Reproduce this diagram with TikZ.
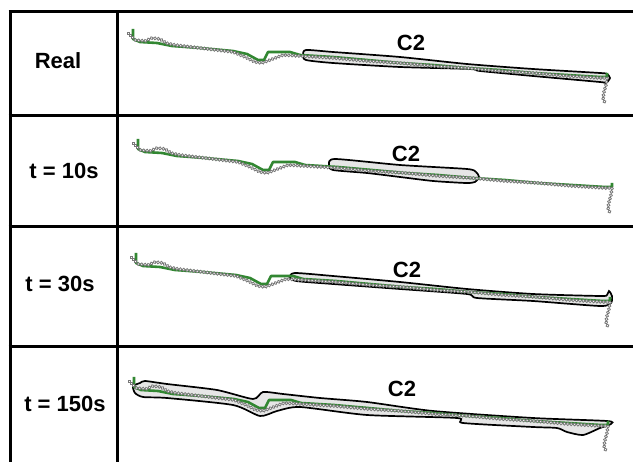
\documentclass[tikz,border=0pt]{standalone}
\usepackage{fontspec}
\setmainfont{Liberation Sans}
\usetikzlibrary{decorations.markings}
\definecolor{trackcol}{RGB}{50,135,50}
\definecolor{dotcol}{RGB}{120,120,120}
\definecolor{hullcol}{RGB}{230,230,230}
% one trajectory, first row; the other rows are shifted copies
\newcommand{\trackline}{(133,29) -- (133,39) -- (140,42) -- (157,43) -- (172,46) -- (200,48)
  -- (233,51) -- (247,54) -- (258,60) -- (264,60) -- (268,52) -- (290,52) -- (300,55)
  -- (333,57) -- (367,60) -- (400,63) -- (433,65) -- (467,68) -- (500,70) -- (533,73)
  -- (567,75) -- (600,77) -- (607,77) -- (607,73)}
\newcommand{\gpsline}{(128,33) -- (135,40) -- (145,41) -- (152,38) -- (160,39)
  -- (166,43) -- (175,45) -- (200,48) -- (233,52) -- (245,57) -- (255,62) -- (262,63)
  -- (270,60) -- (283,55) -- (300,56) -- (333,58) -- (367,61) -- (400,63) -- (433,66)
  -- (467,68) -- (500,71) -- (533,73) -- (567,76) -- (600,78) -- (607,78) -- (606,85)
  -- (604,92) -- (603,98) -- (605,103)}

\begin{document}
\begin{tikzpicture}[x=1pt,y=-1pt,
   rule/.style={line width=3pt},
   lab/.style={font=\fontsize{22}{26}\selectfont\bfseries},
   hull/.style={draw=black,line width=1.7pt,fill=hullcol},
   track/.style={trackcol,line width=2.6pt,line join=round},
   gpsdots/.style={postaction={decorate},decoration={markings,
      mark=between positions 0 and 1 step 3.4pt with
      {\draw[dotcol,fill=white,line width=0.8pt] (0,0) circle (1.5pt);}}}]
  \useasboundingbox (0,0) rectangle (633,462);
  \fill[white] (0,0) rectangle (633,462);
  \clip (0,0) rectangle (633,462);

  % cluster hulls
  \draw[hull] plot[smooth cycle,tension=0.4] coordinates {(303,55) (306,50) (333,52)
    (400,57) (467,64) (533,69) (600,73) (607,74) (610,78) (606,83) (600,82) (533,76)
    (480,71) (470,69) (400,67) (333,63) (306,60)};
  \draw[hull] plot[smooth cycle,tension=0.4] coordinates {(329,165) (335,159) (400,165)
    (467,169) (476,172) (479,177) (475,182) (466,183) (433,181) (400,177) (367,173)
    (333,170)};
  \draw[hull] plot[smooth cycle,tension=0.4] coordinates {(290,277) (295,273) (333,276)
    (400,282) (467,289) (533,294) (600,296) (607,295) (609,291) (612,296) (611,303)
    (600,306) (533,301) (477,298) (467,294) (400,289) (333,284) (296,281)};
  \draw[hull] plot[smooth cycle,tension=0.4] coordinates {(133,386) (140,383) (145,381)
    (167,384) (217,390) (253,399) (263,392) (283,394) (320,398) (367,402) (433,411)
    (533,418) (607,421) (611,424) (600,428) (583,435) (567,432) (557,428) (533,427)
    (463,423) (457,418) (367,415) (300,407) (277,411) (260,416) (233,405) (167,398)
    (143,397) (135,393)};

  % trajectories
  \foreach \dx/\dy in {0/0,5/110,3/224,1/348}{
    \begin{scope}[shift={(\dx,\dy)}]
      \draw[track] \trackline;
      \path[gpsdots] \gpsline;
    \end{scope}}

  % table
  \draw[rule] (10,12) -- (10,470);
  \draw[rule] (117,12) -- (117,470);
  \foreach \y in {12,116,227,347}{
    \draw[rule] (8.5,\y) -- (640,\y);}

  \node[lab] (lreal) at (58,61) {Real};
  \node[lab] (lten) at (64,171) {t = 10s};
  \node[lab] (lthirty) at (60,284) {t = 30s};
  \node[lab] (lfifty) at (65,404) {t = 150s};
  \node[lab] (ctwoa) at (411,43) {C2};
  \node[lab] (ctwob) at (406,154) {C2};
  \node[lab] (ctwoc) at (407,270) {C2};
  \node[lab] (ctwod) at (402,389) {C2};
\end{tikzpicture}
\end{document}
